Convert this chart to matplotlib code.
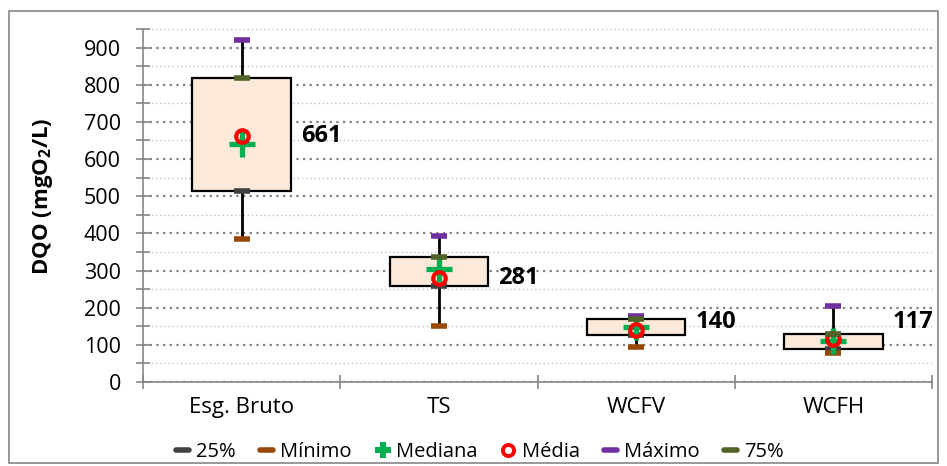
import numpy as np
import matplotlib
matplotlib.use('Agg')
import matplotlib.pyplot as plt
from matplotlib.lines import Line2D
from matplotlib.patches import Rectangle

# Data
categorias = ['Esg. Bruto', 'TS', 'WCFV', 'WCFH']
minimo = [385, 150, 95, 79]
q25 = [515, 257, 127, 90]
mediana = [640, 305, 147, 109]
media = [661, 281, 140, 117]
maximo = [920, 392, 178, 204]
q75 = [818, 337, 170, 129]
rotulos = ['661', '281', '140', '117']
rotulo_dy = [0, 0, 22, 45]

plt.rcParams['font.family'] = ['Open Sans', 'DejaVu Sans']
plt.rcParams['mathtext.fontset'] = 'custom'
plt.rcParams['mathtext.bf'] = 'Open Sans:bold'
plt.rcParams['mathtext.rm'] = 'Open Sans'

cores = {'25%': '#404040', 'Mínimo': '#984807', 'Mediana': '#00B050',
         'Média': '#FF0000', 'Máximo': '#7030A0', '75%': '#4F6228'}

x = np.arange(len(categorias))
fig = plt.figure(figsize=(9.47, 4.66), dpi=100)
ax = fig.add_axes([0.151, 0.1803, 0.8332, 0.7575])

# Outer border of the chart area
fig.add_artist(Rectangle((9/947, 3/466), 929/947, 452/466, transform=fig.transFigure,
                         fill=False, edgecolor='#868686', lw=1.2))

# Box and whiskers
ax.vlines(x, minimo, maximo, color='black', lw=2, zorder=2)
ax.bar(x, np.array(q75) - np.array(q25), bottom=q25, width=0.5,
       color='#FDE9D9', edgecolor='black', lw=1.6, zorder=3)

# Series markers (Excel order)
dash = dict(marker='_', ms=11, mew=4, ls='none', zorder=4)
ax.plot(x, q25, color=cores['25%'], **dash)
ax.plot(x, minimo, color=cores['Mínimo'], **dash)
ax.plot(x, mediana, color=cores['Mediana'], marker='+', ms=19, mew=3.8, ls='none', zorder=4)
ax.plot(x, media, color=cores['Média'], marker='o', ms=9, mfc='none', mew=3, ls='none', zorder=4)
ax.plot(x, maximo, color=cores['Máximo'], **dash)
ax.plot(x, q75, color=cores['75%'], **dash)

for i in range(len(categorias)):
    ax.text(x[i] + 0.3, media[i] + rotulo_dy[i], rotulos[i], fontsize=17,
            fontweight='bold', ha='left', va='center')

# Axes cosmetics
ax.set_xlim(-0.5, 3.5)
ax.set_ylim(0, 950)
ax.set_yticks(np.arange(0, 901, 100))
ax.set_yticks(np.arange(50, 951, 100), minor=True)
ax.set_xticks(np.arange(-0.5, 3.6, 1))
ax.set_xticklabels([])
ax.set_xticks(x, minor=True)
ax.set_xticklabels(categorias, minor=True)
ax.tick_params(axis='x', which='minor', length=0, labelsize=16, pad=11)
ax.tick_params(axis='x', which='major', direction='inout', length=10, color='#868686', width=1.2)
ax.tick_params(axis='y', which='both', direction='inout', length=10, color='#868686',
               width=1.2, labelsize=15.5, pad=11)

ax.grid(axis='y', which='major', color='#808080', ls=(0, (1, 2)), lw=1.6, zorder=0)
ax.grid(axis='y', which='minor', color='#c0c0c0', ls=(0, (1, 2)), lw=1, zorder=0)
ax.set_axisbelow(True)
for s in ['top', 'right']:
    ax.spines[s].set_visible(False)
for s in ['left', 'bottom']:
    ax.spines[s].set_color('#868686')
    ax.spines[s].set_linewidth(1.2)

ax.set_ylabel(r'DQO (mgO$_\mathbf{2}$/L)', fontsize=16, fontweight='bold')
ax.yaxis.set_label_coords(-0.112, 0.525)

# Legend with smaller handles
handles = []
for nome in ['25%', 'Mínimo', 'Mediana', 'Média', 'Máximo', '75%']:
    if nome == 'Mediana':
        h = Line2D([], [], color=cores[nome], marker='P', ms=11, mew=0, ls='none')
    elif nome == 'Média':
        h = Line2D([], [], color=cores[nome], marker='o', ms=8, mfc='none', mew=2.8, ls='none')
    else:
        h = Line2D([], [], color=cores[nome], lw=4, solid_capstyle='round')
    handles.append(h)
fig.legend(handles, ['25%', 'Mínimo', 'Mediana', 'Média', 'Máximo', '75%'],
           loc='center', bbox_to_anchor=(0.507, 0.03), ncol=6, frameon=False,
           fontsize=14.5, handlelength=0.65, handletextpad=0.35, columnspacing=1.2,
           numpoints=1)

plt.savefig('out.png', dpi=100)
